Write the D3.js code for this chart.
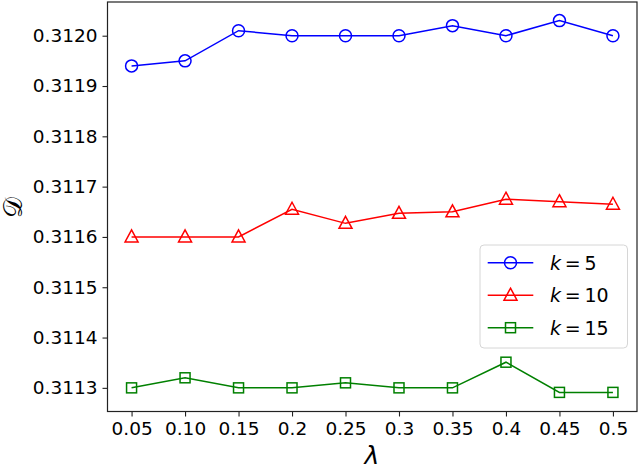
<!DOCTYPE html>
<html>
<head>
<meta charset="utf-8">
<script src="https://cdn.jsdelivr.net/npm/d3@7"></script>
<style>
	body { margin: 0; background: #fff; }
	text { font-family: "DejaVu Sans", sans-serif; fill: #000; }
</style>
</head>
<body>
<script>
const lambdas = ['0.05', '0.10', '0.15', '0.2', '0.25', '0.3', '0.35', '0.4', '0.45', '0.5'];
const yTicks = [0.3113, 0.3114, 0.3115, 0.3116, 0.3117, 0.3118, 0.3119, 0.3120];
const k5 = [0.31194, 0.31195, 0.31201, 0.31200, 0.31200, 0.31200, 0.31202, 0.31200, 0.31203, 0.31200];
const k10 = [0.31160, 0.31160, 0.31160, 0.311655, 0.311627, 0.311647, 0.31165, 0.311675, 0.31167, 0.311665];
const k15 = [0.31130, 0.31132, 0.31130, 0.31130, 0.31131, 0.31130, 0.31130, 0.311351, 0.311291, 0.311291];
const seriesNames = ['5', '10', '15'];

const width = 640, height = 468;
const plotL = 107.5, plotR = 637, plotT = 2, plotB = 411.5;

let svg = d3.select('body').append('svg')
	.attr('width', width)
	.attr('height', height);

let x = d3.scaleLinear().domain([-0.45, 9.45]).range([plotL, plotR]);
let y = d3.scaleLinear().domain([0.311253, 0.312067]).range([plotB, plotT]);

let series = [
	{ name: seriesNames[0], values: k5, color: '#0000ff', shape: 'circle' },
	{ name: seriesNames[1], values: k10, color: '#ff0000', shape: 'triangle' },
	{ name: seriesNames[2], values: k15, color: '#008000', shape: 'square' }
];

// axes
let xAxis = d3.axisBottom(x)
	.tickValues(d3.range(lambdas.length))
	.tickFormat(i => lambdas[i])
	.tickSize(5).tickPadding(5);
let yAxis = d3.axisLeft(y)
	.tickValues(yTicks)
	.tickFormat(d3.format('.4f'))
	.tickSize(5).tickPadding(5);

let gx = svg.append('g').attr('transform', `translate(0,${plotB})`).call(xAxis);
let gy = svg.append('g').attr('transform', `translate(${plotL},0)`).call(yAxis);
for (let g of [gx, gy]) {
	g.select('.domain').remove();
	g.selectAll('line').attr('stroke', '#222').attr('stroke-width', 1.1);
	g.selectAll('text').style('font-size', '18.5px').attr('fill', '#000');
}

svg.append('rect')
	.attr('x', plotL).attr('y', plotT)
	.attr('width', plotR - plotL).attr('height', plotB - plotT)
	.attr('fill', 'none').attr('stroke', '#222').attr('stroke-width', 1.2);

function drawMarker(g, shape, color) {
	if (shape === 'circle')
		g.append('circle').attr('r', 6);
	else if (shape === 'triangle')
		g.append('path').attr('d', 'M0,-7L6.5,5L-6.5,5Z');
	else
		g.append('rect').attr('x', -5).attr('y', -5).attr('width', 10).attr('height', 10);
	g.selectAll('*').attr('fill', 'none').attr('stroke', color).attr('stroke-width', 1.5);
}

let line = d3.line().x((d, i) => x(i)).y(d => y(d));

for (let s of series) {
	svg.append('path')
		.datum(s.values)
		.attr('d', line)
		.attr('fill', 'none')
		.attr('stroke', s.color)
		.attr('stroke-width', 1.5);
	svg.append('g').selectAll('g')
		.data(s.values)
		.join('g')
		.attr('transform', (d, i) => `translate(${x(i)},${y(d)})`)
		.each(function () { drawMarker(d3.select(this), s.shape, s.color); });
}

// legend
let legend = svg.append('g');
legend.append('rect')
	.attr('x', 480).attr('y', 245).attr('width', 147.5).attr('height', 103)
	.attr('rx', 4)
	.attr('fill', 'white').attr('fill-opacity', 0.8)
	.attr('stroke', '#d6d6d6').attr('stroke-width', 1);

series.forEach((s, i) => {
	let ly = 262.7 + i * 32.5;
	legend.append('line')
		.attr('x1', 487.7).attr('x2', 533.3)
		.attr('y1', ly).attr('y2', ly)
		.attr('stroke', s.color).attr('stroke-width', 1.5);
	let m = legend.append('g').attr('transform', `translate(510.5,${ly})`);
	drawMarker(m, s.shape, s.color);
	let t = legend.append('text')
		.attr('x', 550).attr('y', ly + 7)
		.style('font-size', '19px');
	t.append('tspan').style('font-style', 'italic').text('k');
	t.append('tspan').text('\u2009=\u2009' + s.name);
});

// axis titles
svg.append('text')
	.attr('x', 372).attr('y', 464)
	.attr('text-anchor', 'middle')
	.style('font-size', '25px').style('font-style', 'italic')
	.text('λ');

svg.append('text')
	.attr('transform', 'translate(22,207) rotate(-90)')
	.attr('text-anchor', 'middle')
	.style('font-size', '26px')
	.text('𝒟');
</script>
</body>
</html>
